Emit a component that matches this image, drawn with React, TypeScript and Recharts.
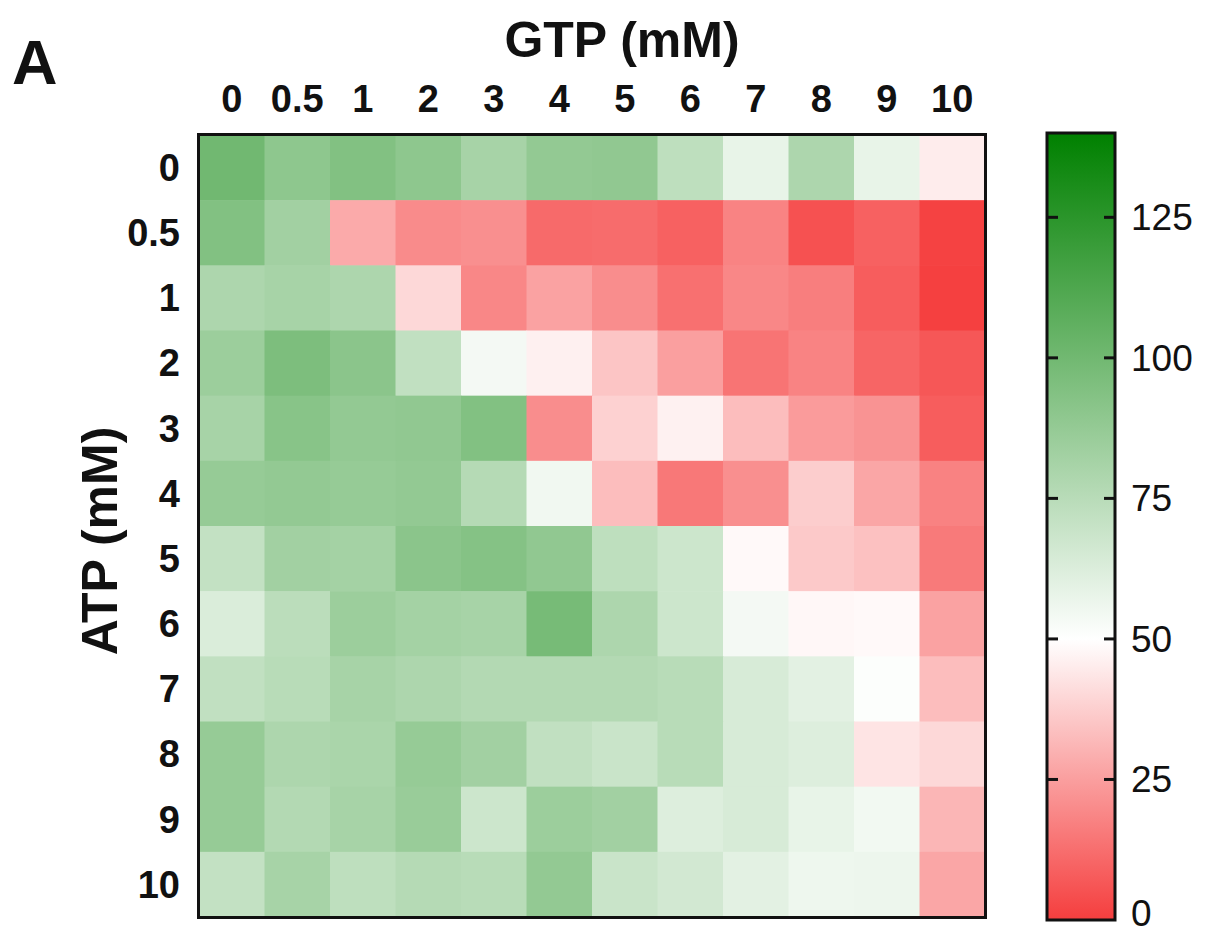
import {
  ReferenceArea,
  Scatter,
  ScatterChart,
  XAxis,
  YAxis,
} from "recharts";

// GTP along the top, ATP down the side (mM)
const GTP_LABELS = ["0", "0.5", "1", "2", "3", "4", "5", "6", "7", "8", "9", "10"];
const ATP_LABELS = ["0", "0.5", "1", "2", "3", "4", "5", "6", "7", "8", "9", "10"];

// one array per ATP row, one value per GTP column
const ATP_0 = [100, 90, 94, 90, 81, 88, 89, 73, 58, 79, 58, 45];
const ATP_0_5 = [94, 83, 28, 20, 21, 11.5, 12, 9, 18, 5, 9, 1];
const ATP_1 = [79, 81, 79, 40, 19, 26, 20.5, 13, 19, 16.5, 8, 0.5];
const ATP_2 = [85, 96, 91, 72, 54, 46, 35, 25, 14, 18, 10, 6.5];
const ATP_3 = [81, 92, 88, 89, 94, 20.5, 38, 46.5, 33, 24, 22, 8];
const ATP_4 = [87, 88, 87, 88, 76, 55, 33, 15, 21, 37, 27, 17.5];
const ATP_5 = [71, 83, 82, 91, 93, 89, 73, 68, 48.5, 36, 34, 15.5];
const ATP_6 = [63, 74, 85, 82, 81, 98, 79, 68, 54, 48, 48.5, 26];
const ATP_7 = [72, 75, 81, 79, 77, 77, 77, 75, 64, 60, 51, 33];
const ATP_8 = [87, 79, 80, 87, 83, 72, 69, 75, 64, 62, 43, 40];
const ATP_9 = [87, 77, 81, 86, 68, 85, 83, 62, 64, 58, 54.5, 31];
const ATP_10 = [71, 81, 73, 76, 75, 88, 69, 66, 60, 56, 56.5, 27];

const ROWS = [ATP_0, ATP_0_5, ATP_1, ATP_2, ATP_3, ATP_4, ATP_5, ATP_6, ATP_7, ATP_8, ATP_9, ATP_10];

const COLOR_TICKS = [0, 25, 50, 75, 100, 125];
const COLOR_MAX = 140;
const COLOR_MID = 50;

const FONT = '"Liberation Sans", Arial, sans-serif';

const cells = ROWS.flatMap((row, r) =>
  row.map((value, c) => ({ x: c + 0.5, y: r + 0.5, value })),
);

const gtpTicks = GTP_LABELS.map((_, i) => i + 0.5);
const atpTicks = ATP_LABELS.map((_, i) => i + 0.5);

// inner tick marks of the colour scale (none at 0, it sits on the frame)
const scaleMarks = COLOR_TICKS.filter((t) => t > 0).map((t) => ({ x: 0.5, y: t }));

// heatmap geometry
const HM_W = 1000;
const HM_H = 935;
const HM_MARGIN = { top: 75, right: 15, bottom: 18, left: 99 };
const X_AXIS_H = 60;
const Y_AXIS_W = 100;
const PLOT_W = HM_W - HM_MARGIN.left - Y_AXIS_W - HM_MARGIN.right;
const PLOT_H = HM_H - HM_MARGIN.top - X_AXIS_H - HM_MARGIN.bottom;
const CELL_W = PLOT_W / GTP_LABELS.length;
const CELL_H = PLOT_H / ATP_LABELS.length;

// colour scale geometry
const CB_W = 212;
const CB_MARGIN = { top: 133, right: 0, bottom: 15, left: 47 };
const CB_AXIS_W = 97;
const BAR_W = CB_W - CB_MARGIN.left - CB_MARGIN.right - CB_AXIS_W;

function cellColor(v: number): string {
  if (v <= COLOR_MID) {
    const s = Math.max(0, v) / COLOR_MID;
    const r = Math.round(245 + 10 * s);
    const g = Math.round(62 + 193 * s);
    return `rgb(${r},${g},${g})`;
  }
  const t = Math.min(1, (v - COLOR_MID) / (COLOR_MAX - COLOR_MID));
  const rb = Math.round(255 * (1 - t));
  const g = Math.round(255 - 127 * t);
  return `rgb(${rb},${g},${rb})`;
}

function CellShape(props: any) {
  const { cx, cy, payload } = props;
  return (
    <rect
      x={cx - CELL_W / 2}
      y={cy - CELL_H / 2}
      width={CELL_W + 0.6}
      height={CELL_H + 0.6}
      fill={cellColor(payload.value)}
    />
  );
}

function MarkShape(props: any) {
  const { cx, cy } = props;
  const left = cx - BAR_W / 2;
  const right = cx + BAR_W / 2;
  return (
    <g stroke="#111" strokeWidth={3}>
      <line x1={left} x2={left + 11} y1={cy} y2={cy} />
      <line x1={right - 11} x2={right} y1={cy} y2={cy} />
    </g>
  );
}

function TopTick(props: any) {
  const { x, y, payload } = props;
  return (
    <text
      x={x}
      y={y - 23}
      textAnchor="middle"
      fontFamily={FONT}
      fontWeight="bold"
      fontSize={38}
      fill="#111"
    >
      {GTP_LABELS[Math.round(payload.value - 0.5)]}
    </text>
  );
}

function LeftTick(props: any) {
  const { x, y, payload } = props;
  return (
    <text
      x={x - 19}
      y={y}
      dy="0.35em"
      textAnchor="end"
      fontFamily={FONT}
      fontWeight="bold"
      fontSize={38}
      fill="#111"
    >
      {ATP_LABELS[Math.round(payload.value - 0.5)]}
    </text>
  );
}

function ScaleTick(props: any) {
  const { x, y, payload } = props;
  // the 0 label sits on the bottom edge; keep it inside the page
  const baseline = Math.min(y + 13, 926);
  return (
    <text
      x={x + 16}
      y={baseline}
      textAnchor="start"
      fontFamily={FONT}
      fontSize={37}
      fill="#111"
    >
      {payload.value}
    </text>
  );
}

function Heatmap() {
  return (
    <ScatterChart width={HM_W} height={HM_H} margin={HM_MARGIN}>
      <XAxis
        dataKey="x"
        type="number"
        orientation="top"
        domain={[0, GTP_LABELS.length]}
        ticks={gtpTicks}
        interval={0}
        height={X_AXIS_H}
        axisLine={false}
        tickLine={false}
        tickSize={0}
        tickMargin={0}
        tick={<TopTick />}
        label={{
          content: () => (
            <text
              x={622}
              y={57}
              textAnchor="middle"
              fontFamily={FONT}
              fontWeight="bold"
              fontSize={50}
              fill="#111"
            >
              GTP (mM)
            </text>
          ),
        }}
      />
      <YAxis
        dataKey="y"
        type="number"
        reversed
        domain={[0, ATP_LABELS.length]}
        ticks={atpTicks}
        interval={0}
        width={Y_AXIS_W}
        axisLine={false}
        tickLine={false}
        tickSize={0}
        tickMargin={0}
        tick={<LeftTick />}
        label={{
          content: () => (
            <text
              x={99}
              y={541}
              dy="0.35em"
              transform="rotate(-90 99 541)"
              textAnchor="middle"
              fontFamily={FONT}
              fontWeight="bold"
              fontSize={50}
              fill="#111"
            >
              ATP (mM)
            </text>
          ),
        }}
      />
      <Scatter data={cells} shape={CellShape} isAnimationActive={false} />
    </ScatterChart>
  );
}

function ColorBar() {
  const midOffset = `${(1 - COLOR_MID / COLOR_MAX) * 100}%`;
  return (
    <ScatterChart width={CB_W} height={HM_H} margin={CB_MARGIN}>
      <defs>
        <linearGradient id="scaleGrad" x1="0" y1="0" x2="0" y2="1">
          <stop offset="0%" stopColor={cellColor(COLOR_MAX)} />
          <stop offset={midOffset} stopColor={cellColor(COLOR_MID)} />
          <stop offset="100%" stopColor={cellColor(0)} />
        </linearGradient>
      </defs>
      <XAxis type="number" dataKey="x" domain={[0, 1]} hide />
      <YAxis
        type="number"
        dataKey="y"
        orientation="right"
        domain={[0, COLOR_MAX]}
        ticks={COLOR_TICKS}
        interval={0}
        width={CB_AXIS_W}
        axisLine={false}
        tickLine={false}
        tickSize={0}
        tickMargin={0}
        tick={<ScaleTick />}
      />
      <ReferenceArea
        x1={0}
        x2={1}
        y1={0}
        y2={COLOR_MAX}
        fill="url(#scaleGrad)"
        fillOpacity={1}
        stroke="#111"
        strokeWidth={3}
        ifOverflow="visible"
      />
      <Scatter data={scaleMarks} shape={MarkShape} isAnimationActive={false} />
    </ScatterChart>
  );
}

export default function App() {
  return (
    <div
      style={{
        position: "absolute",
        left: 0,
        top: 0,
        width: 1212,
        height: 935,
        background: "#fff",
        overflow: "hidden",
      }}
    >
      <div
        style={{
          position: "absolute",
          left: 12,
          top: 31,
          fontFamily: FONT,
          fontWeight: "bold",
          fontSize: 63,
          lineHeight: "63px",
          color: "#111",
        }}
      >
        A
      </div>
      <div style={{ position: "absolute", left: 0, top: 0 }}>
        <Heatmap />
      </div>
      {/* frame drawn over the cells */}
      <div
        style={{
          position: "absolute",
          left: HM_MARGIN.left + Y_AXIS_W - 2,
          top: HM_MARGIN.top + X_AXIS_H - 2,
          width: PLOT_W + 4,
          height: PLOT_H + 4,
          border: "3px solid #111",
          boxSizing: "border-box",
          pointerEvents: "none",
        }}
      />
      <div style={{ position: "absolute", left: HM_W, top: 0 }}>
        <ColorBar />
      </div>
    </div>
  );
}
